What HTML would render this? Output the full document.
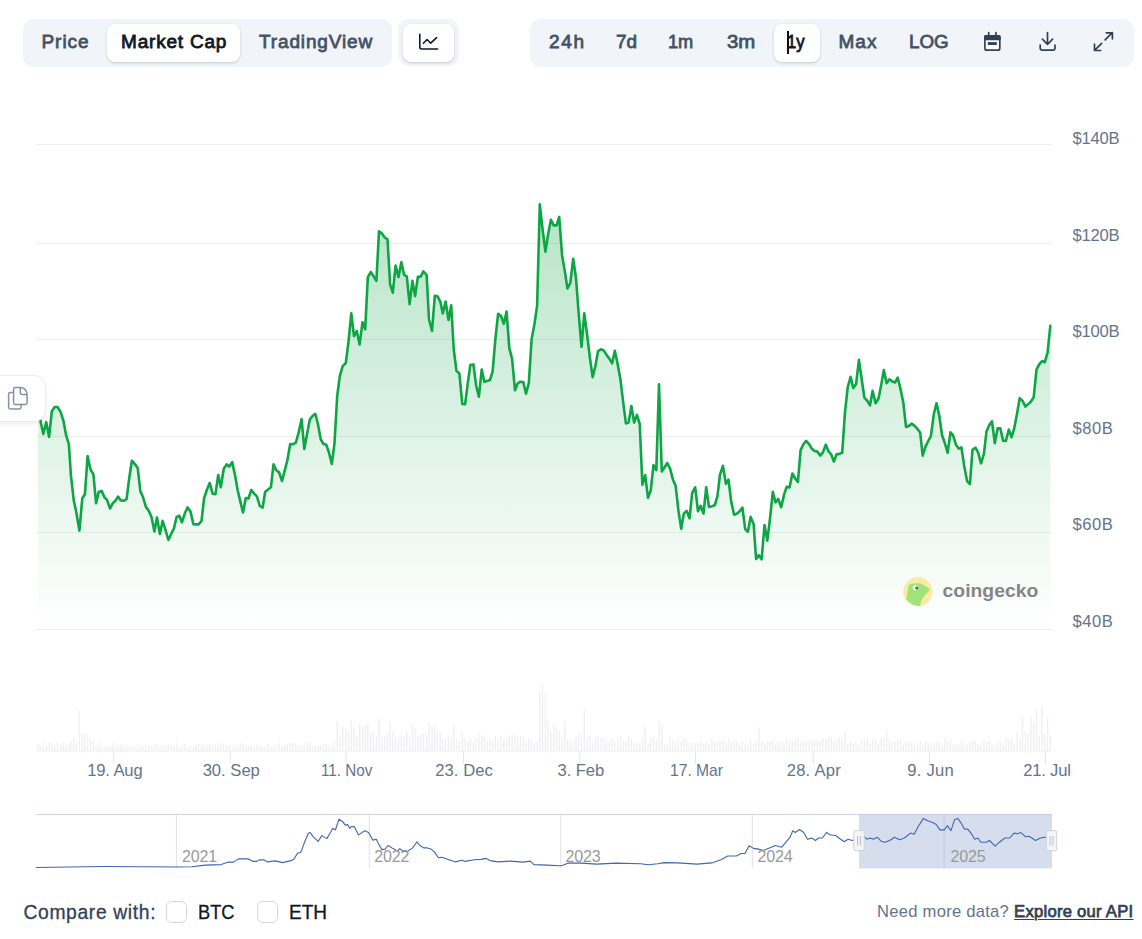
<!DOCTYPE html>
<html lang="en"><head><meta charset="utf-8"><title>Market Cap chart</title>
<style>
html,body{margin:0;padding:0;background:#fff}
body{width:1142px;height:939px;position:relative;overflow:hidden;font-family:"Liberation Sans",sans-serif}
.seg{position:absolute;background:#f1f5f9;border-radius:10px}
.btn{position:absolute;background:#fff;border-radius:8px;box-shadow:0 1px 3px rgba(15,23,42,.13),0 1px 2px rgba(15,23,42,.08)}
.t{position:absolute;white-space:nowrap;line-height:1;padding:0;margin:0}
.t.a{color:#0f172a}
.ico{position:absolute}
.cb{position:absolute;width:20.6px;height:21.8px;border:1.1px solid #d2d6dd;border-radius:5.8px;background:#fff;box-sizing:border-box}
.float{position:absolute;left:-12px;top:375.4px;width:57.6px;height:47px;background:#fff;border:1px solid #ededf0;border-radius:12px;box-sizing:border-box;box-shadow:0 2px 4px rgba(0,0,0,.07)}
</style></head><body>
<svg width="1142" height="939" viewBox="0 0 1142 939" style="position:absolute;left:0;top:0">
<defs>
<linearGradient id="g" gradientUnits="userSpaceOnUse" x1="0" y1="204" x2="0" y2="629">
<stop offset="0" stop-color="#0ea645" stop-opacity="0.30"/>
<stop offset="1" stop-color="#0ea645" stop-opacity="0.0"/>
</linearGradient>
</defs>
<style>
.ax{font-family:"Liberation Sans",sans-serif;font-size:16px;fill:#64748b}
.ny{font-family:"Liberation Sans",sans-serif;font-size:16.5px;fill:#9b9b9b}
</style>
<rect x="36" y="144.0" width="1016" height="1" fill="#eeeef0"/><rect x="36" y="243.0" width="1016" height="1" fill="#eeeef0"/><rect x="36" y="339.0" width="1016" height="1" fill="#eeeef0"/><rect x="36" y="436.0" width="1016" height="1" fill="#eeeef0"/><rect x="36" y="532.0" width="1016" height="1" fill="#eeeef0"/><rect x="36" y="629.0" width="1016" height="1" fill="#eeeef0"/>
<g fill="#f0f0f4"><rect x="37.3" y="744.3" width="1.4" height="6.2"/>
<rect x="39.5" y="745.2" width="1.4" height="5.3"/>
<rect x="42.6" y="742.2" width="1.4" height="8.3"/>
<rect x="45.5" y="745.5" width="1.4" height="5.0"/>
<rect x="48.4" y="742.6" width="1.4" height="7.9"/>
<rect x="51.1" y="743.5" width="1.4" height="7.0"/>
<rect x="54.0" y="745.3" width="1.4" height="5.2"/>
<rect x="56.9" y="742.4" width="1.4" height="8.1"/>
<rect x="60.0" y="745.2" width="1.4" height="5.3"/>
<rect x="62.7" y="742.3" width="1.4" height="8.2"/>
<rect x="65.4" y="744.5" width="1.4" height="6.0"/>
<rect x="68.2" y="744.1" width="1.4" height="6.4"/>
<rect x="70.2" y="741.3" width="1.4" height="9.2"/>
<rect x="73.1" y="737.7" width="1.4" height="12.8"/>
<rect x="75.7" y="743.0" width="1.4" height="7.5"/>
<rect x="78.7" y="710.5" width="1.4" height="40.0"/>
<rect x="81.6" y="733.5" width="1.4" height="17.0"/>
<rect x="84.2" y="733.5" width="1.4" height="17.0"/>
<rect x="86.9" y="734.5" width="1.4" height="16.0"/>
<rect x="89.8" y="740.4" width="1.4" height="10.1"/>
<rect x="92.7" y="741.9" width="1.4" height="8.6"/>
<rect x="95.4" y="746.5" width="1.4" height="4.0"/>
<rect x="98.0" y="742.6" width="1.4" height="7.9"/>
<rect x="100.9" y="745.4" width="1.4" height="5.1"/>
<rect x="103.8" y="746.2" width="1.4" height="4.3"/>
<rect x="106.3" y="746.3" width="1.4" height="4.2"/>
<rect x="109.4" y="745.5" width="1.4" height="5.0"/>
<rect x="112.0" y="743.3" width="1.4" height="7.2"/>
<rect x="114.5" y="746.2" width="1.4" height="4.3"/>
<rect x="117.4" y="744.5" width="1.4" height="6.0"/>
<rect x="120.1" y="744.3" width="1.4" height="6.2"/>
<rect x="123.0" y="745.5" width="1.4" height="5.0"/>
<rect x="125.9" y="744.8" width="1.4" height="5.7"/>
<rect x="128.7" y="746.9" width="1.4" height="3.6"/>
<rect x="131.2" y="746.9" width="1.4" height="3.6"/>
<rect x="134.1" y="746.3" width="1.4" height="4.2"/>
<rect x="137.0" y="744.3" width="1.4" height="6.2"/>
<rect x="139.7" y="745.4" width="1.4" height="5.1"/>
<rect x="142.3" y="745.9" width="1.4" height="4.6"/>
<rect x="145.2" y="744.7" width="1.4" height="5.8"/>
<rect x="148.1" y="745.3" width="1.4" height="5.2"/>
<rect x="150.8" y="745.9" width="1.4" height="4.6"/>
<rect x="153.7" y="743.9" width="1.4" height="6.6"/>
<rect x="156.3" y="744.3" width="1.4" height="6.2"/>
<rect x="159.2" y="746.2" width="1.4" height="4.3"/>
<rect x="161.9" y="744.8" width="1.4" height="5.7"/>
<rect x="164.8" y="745.0" width="1.4" height="5.5"/>
<rect x="167.7" y="743.5" width="1.4" height="7.0"/>
<rect x="170.4" y="744.1" width="1.4" height="6.4"/>
<rect x="173.3" y="746.0" width="1.4" height="4.5"/>
<rect x="175.9" y="743.1" width="1.4" height="7.4"/>
<rect x="178.6" y="746.7" width="1.4" height="3.8"/>
<rect x="181.2" y="745.4" width="1.4" height="5.1"/>
<rect x="184.1" y="744.0" width="1.4" height="6.5"/>
<rect x="186.9" y="746.6" width="1.4" height="3.9"/>
<rect x="189.8" y="745.1" width="1.4" height="5.4"/>
<rect x="192.7" y="747.0" width="1.4" height="3.5"/>
<rect x="195.4" y="744.4" width="1.4" height="6.1"/>
<rect x="197.9" y="744.0" width="1.4" height="6.5"/>
<rect x="200.8" y="744.8" width="1.4" height="5.7"/>
<rect x="203.4" y="743.5" width="1.4" height="7.0"/>
<rect x="206.3" y="745.9" width="1.4" height="4.6"/>
<rect x="209.0" y="744.3" width="1.4" height="6.2"/>
<rect x="211.9" y="744.7" width="1.4" height="5.8"/>
<rect x="214.8" y="744.8" width="1.4" height="5.7"/>
<rect x="217.5" y="745.3" width="1.4" height="5.2"/>
<rect x="220.1" y="743.7" width="1.4" height="6.8"/>
<rect x="223.0" y="743.2" width="1.4" height="7.3"/>
<rect x="225.9" y="745.2" width="1.4" height="5.3"/>
<rect x="228.6" y="744.4" width="1.4" height="6.1"/>
<rect x="231.5" y="746.9" width="1.4" height="3.6"/>
<rect x="234.1" y="744.3" width="1.4" height="6.2"/>
<rect x="237.0" y="744.5" width="1.4" height="6.0"/>
<rect x="239.7" y="743.0" width="1.4" height="7.5"/>
<rect x="242.3" y="743.7" width="1.4" height="6.8"/>
<rect x="245.1" y="746.0" width="1.4" height="4.5"/>
<rect x="247.7" y="745.5" width="1.4" height="5.0"/>
<rect x="250.6" y="744.3" width="1.4" height="6.2"/>
<rect x="253.3" y="747.0" width="1.4" height="3.5"/>
<rect x="256.2" y="745.1" width="1.4" height="5.4"/>
<rect x="259.1" y="746.3" width="1.4" height="4.2"/>
<rect x="261.9" y="746.5" width="1.4" height="4.0"/>
<rect x="264.4" y="746.8" width="1.4" height="3.7"/>
<rect x="267.3" y="743.6" width="1.4" height="6.9"/>
<rect x="270.2" y="746.4" width="1.4" height="4.1"/>
<rect x="272.8" y="745.9" width="1.4" height="4.6"/>
<rect x="275.5" y="745.2" width="1.4" height="5.3"/>
<rect x="278.4" y="743.0" width="1.4" height="7.5"/>
<rect x="281.3" y="746.6" width="1.4" height="3.9"/>
<rect x="284.0" y="744.9" width="1.4" height="5.6"/>
<rect x="286.6" y="744.4" width="1.4" height="6.1"/>
<rect x="289.5" y="742.8" width="1.4" height="7.7"/>
<rect x="292.0" y="743.1" width="1.4" height="7.4"/>
<rect x="295.1" y="742.9" width="1.4" height="7.6"/>
<rect x="298.0" y="745.5" width="1.4" height="5.0"/>
<rect x="300.9" y="744.9" width="1.4" height="5.6"/>
<rect x="303.6" y="745.1" width="1.4" height="5.4"/>
<rect x="306.5" y="742.6" width="1.4" height="7.9"/>
<rect x="309.1" y="742.2" width="1.4" height="8.3"/>
<rect x="311.8" y="746.0" width="1.4" height="4.5"/>
<rect x="314.6" y="745.9" width="1.4" height="4.6"/>
<rect x="317.3" y="745.6" width="1.4" height="4.9"/>
<rect x="320.1" y="745.6" width="1.4" height="4.9"/>
<rect x="322.8" y="744.3" width="1.4" height="6.2"/>
<rect x="325.5" y="743.8" width="1.4" height="6.7"/>
<rect x="328.2" y="745.4" width="1.4" height="5.1"/>
<rect x="331.1" y="745.8" width="1.4" height="4.7"/>
<rect x="333.8" y="741.4" width="1.4" height="9.1"/>
<rect x="336.5" y="720.5" width="1.4" height="30.0"/>
<rect x="339.1" y="735.1" width="1.4" height="15.4"/>
<rect x="342.0" y="726.8" width="1.4" height="23.7"/>
<rect x="345.1" y="727.7" width="1.4" height="22.8"/>
<rect x="347.8" y="730.3" width="1.4" height="20.2"/>
<rect x="350.6" y="720.5" width="1.4" height="30.0"/>
<rect x="353.3" y="727.7" width="1.4" height="22.8"/>
<rect x="356.1" y="737.3" width="1.4" height="13.2"/>
<rect x="358.9" y="723.9" width="1.4" height="26.6"/>
<rect x="361.8" y="725.7" width="1.4" height="24.8"/>
<rect x="364.5" y="724.1" width="1.4" height="26.4"/>
<rect x="367.1" y="722.5" width="1.4" height="28.0"/>
<rect x="370.0" y="731.6" width="1.4" height="18.9"/>
<rect x="372.8" y="731.4" width="1.4" height="19.1"/>
<rect x="375.7" y="736.1" width="1.4" height="14.4"/>
<rect x="378.3" y="718.5" width="1.4" height="32.0"/>
<rect x="381.1" y="736.6" width="1.4" height="13.9"/>
<rect x="384.0" y="736.5" width="1.4" height="14.0"/>
<rect x="386.8" y="734.1" width="1.4" height="16.4"/>
<rect x="389.4" y="721.5" width="1.4" height="29.0"/>
<rect x="392.1" y="731.8" width="1.4" height="18.7"/>
<rect x="394.9" y="736.5" width="1.4" height="14.0"/>
<rect x="397.8" y="737.3" width="1.4" height="13.2"/>
<rect x="400.6" y="734.8" width="1.4" height="15.7"/>
<rect x="403.4" y="735.9" width="1.4" height="14.6"/>
<rect x="406.1" y="731.7" width="1.4" height="18.8"/>
<rect x="408.9" y="737.4" width="1.4" height="13.1"/>
<rect x="411.7" y="724.1" width="1.4" height="26.4"/>
<rect x="414.4" y="728.5" width="1.4" height="22.0"/>
<rect x="417.2" y="736.0" width="1.4" height="14.5"/>
<rect x="420.0" y="734.6" width="1.4" height="15.9"/>
<rect x="422.7" y="733.3" width="1.4" height="17.2"/>
<rect x="425.9" y="733.3" width="1.4" height="17.2"/>
<rect x="428.3" y="722.5" width="1.4" height="28.0"/>
<rect x="431.3" y="726.7" width="1.4" height="23.8"/>
<rect x="434.1" y="724.9" width="1.4" height="25.6"/>
<rect x="436.8" y="732.8" width="1.4" height="17.7"/>
<rect x="439.6" y="732.8" width="1.4" height="17.7"/>
<rect x="442.1" y="738.7" width="1.4" height="11.8"/>
<rect x="444.9" y="738.9" width="1.4" height="11.6"/>
<rect x="447.8" y="736.3" width="1.4" height="14.2"/>
<rect x="450.5" y="737.8" width="1.4" height="12.7"/>
<rect x="453.1" y="724.5" width="1.4" height="26.0"/>
<rect x="455.8" y="739.9" width="1.4" height="10.6"/>
<rect x="458.6" y="741.8" width="1.4" height="8.7"/>
<rect x="461.6" y="732.7" width="1.4" height="17.8"/>
<rect x="464.4" y="737.6" width="1.4" height="12.9"/>
<rect x="467.1" y="741.4" width="1.4" height="9.1"/>
<rect x="469.6" y="737.5" width="1.4" height="13.0"/>
<rect x="472.7" y="742.6" width="1.4" height="7.9"/>
<rect x="475.4" y="737.8" width="1.4" height="12.7"/>
<rect x="478.2" y="733.5" width="1.4" height="17.0"/>
<rect x="481.0" y="734.6" width="1.4" height="15.9"/>
<rect x="483.7" y="736.3" width="1.4" height="14.2"/>
<rect x="486.5" y="740.5" width="1.4" height="10.0"/>
<rect x="489.3" y="739.5" width="1.4" height="11.0"/>
<rect x="491.9" y="741.4" width="1.4" height="9.1"/>
<rect x="494.6" y="735.7" width="1.4" height="14.8"/>
<rect x="497.4" y="738.0" width="1.4" height="12.5"/>
<rect x="500.2" y="735.7" width="1.4" height="14.8"/>
<rect x="503.1" y="740.0" width="1.4" height="10.5"/>
<rect x="505.9" y="741.0" width="1.4" height="9.5"/>
<rect x="508.6" y="735.6" width="1.4" height="14.9"/>
<rect x="511.4" y="734.0" width="1.4" height="16.5"/>
<rect x="514.3" y="735.3" width="1.4" height="15.2"/>
<rect x="516.9" y="735.7" width="1.4" height="14.8"/>
<rect x="519.7" y="735.7" width="1.4" height="14.8"/>
<rect x="522.6" y="736.4" width="1.4" height="14.1"/>
<rect x="525.3" y="741.2" width="1.4" height="9.3"/>
<rect x="528.1" y="738.6" width="1.4" height="11.9"/>
<rect x="530.9" y="740.1" width="1.4" height="10.4"/>
<rect x="533.7" y="743.1" width="1.4" height="7.4"/>
<rect x="536.4" y="741.8" width="1.4" height="8.7"/>
<rect x="539.1" y="690.5" width="1.4" height="60.0"/>
<rect x="541.9" y="684.5" width="1.4" height="66.0"/>
<rect x="544.7" y="693.5" width="1.4" height="57.0"/>
<rect x="547.4" y="720.5" width="1.4" height="30.0"/>
<rect x="550.2" y="730.6" width="1.4" height="19.9"/>
<rect x="553.0" y="725.4" width="1.4" height="25.1"/>
<rect x="555.9" y="727.4" width="1.4" height="23.1"/>
<rect x="558.5" y="730.3" width="1.4" height="20.2"/>
<rect x="561.3" y="737.8" width="1.4" height="12.7"/>
<rect x="564.2" y="720.5" width="1.4" height="30.0"/>
<rect x="566.8" y="739.7" width="1.4" height="10.8"/>
<rect x="569.6" y="740.2" width="1.4" height="10.3"/>
<rect x="572.5" y="740.3" width="1.4" height="10.2"/>
<rect x="575.3" y="736.3" width="1.4" height="14.2"/>
<rect x="577.9" y="733.8" width="1.4" height="16.7"/>
<rect x="580.8" y="734.7" width="1.4" height="15.8"/>
<rect x="583.6" y="710.5" width="1.4" height="40.0"/>
<rect x="586.4" y="737.1" width="1.4" height="13.4"/>
<rect x="589.1" y="736.1" width="1.4" height="14.4"/>
<rect x="591.9" y="742.7" width="1.4" height="7.8"/>
<rect x="594.7" y="737.9" width="1.4" height="12.6"/>
<rect x="597.3" y="736.0" width="1.4" height="14.5"/>
<rect x="600.2" y="737.3" width="1.4" height="13.2"/>
<rect x="603.0" y="737.7" width="1.4" height="12.8"/>
<rect x="605.8" y="740.0" width="1.4" height="10.5"/>
<rect x="608.7" y="742.5" width="1.4" height="8.0"/>
<rect x="611.4" y="737.5" width="1.4" height="13.0"/>
<rect x="614.1" y="741.3" width="1.4" height="9.2"/>
<rect x="616.9" y="737.6" width="1.4" height="12.9"/>
<rect x="619.7" y="736.2" width="1.4" height="14.3"/>
<rect x="622.4" y="741.0" width="1.4" height="9.5"/>
<rect x="625.2" y="741.0" width="1.4" height="9.5"/>
<rect x="627.9" y="736.6" width="1.4" height="13.9"/>
<rect x="630.7" y="738.5" width="1.4" height="12.0"/>
<rect x="633.4" y="742.9" width="1.4" height="7.6"/>
<rect x="636.2" y="743.3" width="1.4" height="7.2"/>
<rect x="639.0" y="743.2" width="1.4" height="7.3"/>
<rect x="641.7" y="737.3" width="1.4" height="13.2"/>
<rect x="644.5" y="726.5" width="1.4" height="24.0"/>
<rect x="647.3" y="743.3" width="1.4" height="7.2"/>
<rect x="650.0" y="738.1" width="1.4" height="12.4"/>
<rect x="652.8" y="737.0" width="1.4" height="13.5"/>
<rect x="655.6" y="739.5" width="1.4" height="11.0"/>
<rect x="658.3" y="720.5" width="1.4" height="30.0"/>
<rect x="661.1" y="725.5" width="1.4" height="25.0"/>
<rect x="663.9" y="743.6" width="1.4" height="6.9"/>
<rect x="666.6" y="744.5" width="1.4" height="6.0"/>
<rect x="669.4" y="737.5" width="1.4" height="13.0"/>
<rect x="672.2" y="739.9" width="1.4" height="10.6"/>
<rect x="674.9" y="740.9" width="1.4" height="9.6"/>
<rect x="677.7" y="737.9" width="1.4" height="12.6"/>
<rect x="680.5" y="741.6" width="1.4" height="8.9"/>
<rect x="683.2" y="738.5" width="1.4" height="12.0"/>
<rect x="686.0" y="738.9" width="1.4" height="11.6"/>
<rect x="688.8" y="743.4" width="1.4" height="7.1"/>
<rect x="691.5" y="743.1" width="1.4" height="7.4"/>
<rect x="694.5" y="742.9" width="1.4" height="7.6"/>
<rect x="697.3" y="743.3" width="1.4" height="7.2"/>
<rect x="700.0" y="740.9" width="1.4" height="9.6"/>
<rect x="702.8" y="743.2" width="1.4" height="7.3"/>
<rect x="705.5" y="742.1" width="1.4" height="8.4"/>
<rect x="708.3" y="744.1" width="1.4" height="6.4"/>
<rect x="711.1" y="738.6" width="1.4" height="11.9"/>
<rect x="714.0" y="742.5" width="1.4" height="8.0"/>
<rect x="716.7" y="741.8" width="1.4" height="8.7"/>
<rect x="719.3" y="740.9" width="1.4" height="9.6"/>
<rect x="722.2" y="738.7" width="1.4" height="11.8"/>
<rect x="725.2" y="742.1" width="1.4" height="8.4"/>
<rect x="727.8" y="738.6" width="1.4" height="11.9"/>
<rect x="730.5" y="741.5" width="1.4" height="9.0"/>
<rect x="733.4" y="741.3" width="1.4" height="9.2"/>
<rect x="736.0" y="741.3" width="1.4" height="9.2"/>
<rect x="739.0" y="744.9" width="1.4" height="5.6"/>
<rect x="741.7" y="741.9" width="1.4" height="8.6"/>
<rect x="744.5" y="743.7" width="1.4" height="6.8"/>
<rect x="747.2" y="745.0" width="1.4" height="5.5"/>
<rect x="749.9" y="739.4" width="1.4" height="11.1"/>
<rect x="752.9" y="743.8" width="1.4" height="6.7"/>
<rect x="755.4" y="741.7" width="1.4" height="8.8"/>
<rect x="758.1" y="727.5" width="1.4" height="23.0"/>
<rect x="760.9" y="741.1" width="1.4" height="9.4"/>
<rect x="763.8" y="742.6" width="1.4" height="7.9"/>
<rect x="766.6" y="741.2" width="1.4" height="9.3"/>
<rect x="769.3" y="740.9" width="1.4" height="9.6"/>
<rect x="772.1" y="739.2" width="1.4" height="11.3"/>
<rect x="774.8" y="744.0" width="1.4" height="6.5"/>
<rect x="777.6" y="740.6" width="1.4" height="9.9"/>
<rect x="780.5" y="742.9" width="1.4" height="7.6"/>
<rect x="783.3" y="742.6" width="1.4" height="7.9"/>
<rect x="786.0" y="738.9" width="1.4" height="11.6"/>
<rect x="788.8" y="740.8" width="1.4" height="9.7"/>
<rect x="791.7" y="740.3" width="1.4" height="10.2"/>
<rect x="794.5" y="738.7" width="1.4" height="11.8"/>
<rect x="797.2" y="737.5" width="1.4" height="13.0"/>
<rect x="799.9" y="741.0" width="1.4" height="9.5"/>
<rect x="802.7" y="739.7" width="1.4" height="10.8"/>
<rect x="805.4" y="740.6" width="1.4" height="9.9"/>
<rect x="808.4" y="740.5" width="1.4" height="10.0"/>
<rect x="811.0" y="739.1" width="1.4" height="11.4"/>
<rect x="813.9" y="741.0" width="1.4" height="9.5"/>
<rect x="816.6" y="740.3" width="1.4" height="10.2"/>
<rect x="819.5" y="740.8" width="1.4" height="9.7"/>
<rect x="822.2" y="737.2" width="1.4" height="13.3"/>
<rect x="825.1" y="739.1" width="1.4" height="11.4"/>
<rect x="827.8" y="737.7" width="1.4" height="12.8"/>
<rect x="830.5" y="737.2" width="1.4" height="13.3"/>
<rect x="833.2" y="742.5" width="1.4" height="8.0"/>
<rect x="835.8" y="740.1" width="1.4" height="10.4"/>
<rect x="838.7" y="737.2" width="1.4" height="13.3"/>
<rect x="841.5" y="738.0" width="1.4" height="12.5"/>
<rect x="844.3" y="730.5" width="1.4" height="20.0"/>
<rect x="847.0" y="743.5" width="1.4" height="7.0"/>
<rect x="849.9" y="741.1" width="1.4" height="9.4"/>
<rect x="852.6" y="743.9" width="1.4" height="6.6"/>
<rect x="855.4" y="742.7" width="1.4" height="7.8"/>
<rect x="858.2" y="744.0" width="1.4" height="6.5"/>
<rect x="861.0" y="739.5" width="1.4" height="11.0"/>
<rect x="863.7" y="738.7" width="1.4" height="11.8"/>
<rect x="866.6" y="738.0" width="1.4" height="12.5"/>
<rect x="869.3" y="743.5" width="1.4" height="7.0"/>
<rect x="871.9" y="739.4" width="1.4" height="11.1"/>
<rect x="874.9" y="739.9" width="1.4" height="10.6"/>
<rect x="877.8" y="743.7" width="1.4" height="6.8"/>
<rect x="880.5" y="738.4" width="1.4" height="12.1"/>
<rect x="883.1" y="737.8" width="1.4" height="12.7"/>
<rect x="885.9" y="730.5" width="1.4" height="20.0"/>
<rect x="888.7" y="738.1" width="1.4" height="12.4"/>
<rect x="891.4" y="742.1" width="1.4" height="8.4"/>
<rect x="894.3" y="741.5" width="1.4" height="9.0"/>
<rect x="897.0" y="738.0" width="1.4" height="12.5"/>
<rect x="899.8" y="739.2" width="1.4" height="11.3"/>
<rect x="902.6" y="743.9" width="1.4" height="6.6"/>
<rect x="905.3" y="742.0" width="1.4" height="8.5"/>
<rect x="908.1" y="741.5" width="1.4" height="9.0"/>
<rect x="910.9" y="742.7" width="1.4" height="7.8"/>
<rect x="913.7" y="743.7" width="1.4" height="6.8"/>
<rect x="916.6" y="742.9" width="1.4" height="7.6"/>
<rect x="919.5" y="740.2" width="1.4" height="10.3"/>
<rect x="922.0" y="745.0" width="1.4" height="5.5"/>
<rect x="924.9" y="741.4" width="1.4" height="9.1"/>
<rect x="927.6" y="742.2" width="1.4" height="8.3"/>
<rect x="930.2" y="745.0" width="1.4" height="5.5"/>
<rect x="933.2" y="742.9" width="1.4" height="7.6"/>
<rect x="935.8" y="741.0" width="1.4" height="9.5"/>
<rect x="938.5" y="741.8" width="1.4" height="8.7"/>
<rect x="941.4" y="744.8" width="1.4" height="5.7"/>
<rect x="944.1" y="738.7" width="1.4" height="11.8"/>
<rect x="946.9" y="740.0" width="1.4" height="10.5"/>
<rect x="949.8" y="738.8" width="1.4" height="11.7"/>
<rect x="952.4" y="744.6" width="1.4" height="5.9"/>
<rect x="955.2" y="743.6" width="1.4" height="6.9"/>
<rect x="958.1" y="745.1" width="1.4" height="5.4"/>
<rect x="960.7" y="740.2" width="1.4" height="10.3"/>
<rect x="963.5" y="743.6" width="1.4" height="6.9"/>
<rect x="966.4" y="744.5" width="1.4" height="6.0"/>
<rect x="969.2" y="742.6" width="1.4" height="7.9"/>
<rect x="971.8" y="739.5" width="1.4" height="11.0"/>
<rect x="974.7" y="740.1" width="1.4" height="10.4"/>
<rect x="977.5" y="743.8" width="1.4" height="6.7"/>
<rect x="980.3" y="744.5" width="1.4" height="6.0"/>
<rect x="983.2" y="739.6" width="1.4" height="10.9"/>
<rect x="985.8" y="741.8" width="1.4" height="8.7"/>
<rect x="988.6" y="741.0" width="1.4" height="9.5"/>
<rect x="991.3" y="744.9" width="1.4" height="5.6"/>
<rect x="994.1" y="745.2" width="1.4" height="5.3"/>
<rect x="996.9" y="741.2" width="1.4" height="9.3"/>
<rect x="999.6" y="742.8" width="1.4" height="7.7"/>
<rect x="1002.4" y="744.7" width="1.4" height="5.8"/>
<rect x="1005.2" y="738.2" width="1.4" height="12.3"/>
<rect x="1008.1" y="739.8" width="1.4" height="10.7"/>
<rect x="1010.9" y="737.9" width="1.4" height="12.6"/>
<rect x="1013.5" y="743.3" width="1.4" height="7.2"/>
<rect x="1016.4" y="731.9" width="1.4" height="18.6"/>
<rect x="1019.0" y="737.7" width="1.4" height="12.8"/>
<rect x="1021.8" y="715.5" width="1.4" height="35.0"/>
<rect x="1024.7" y="731.1" width="1.4" height="19.4"/>
<rect x="1027.5" y="732.8" width="1.4" height="17.7"/>
<rect x="1030.3" y="716.5" width="1.4" height="34.0"/>
<rect x="1033.0" y="723.1" width="1.4" height="27.4"/>
<rect x="1035.8" y="709.5" width="1.4" height="41.0"/>
<rect x="1038.5" y="735.6" width="1.4" height="14.9"/>
<rect x="1041.3" y="706.5" width="1.4" height="44.0"/>
<rect x="1044.1" y="733.6" width="1.4" height="16.9"/>
<rect x="1046.9" y="717.5" width="1.4" height="33.0"/>
<rect x="1049.6" y="734.7" width="1.4" height="15.8"/></g>
<rect x="36" y="750.5" width="1016" height="1" fill="#eeeef2"/>
<rect x="113.3" y="751" width="1" height="12.8" fill="#e6e6ea"/><rect x="229.8" y="751" width="1" height="12.8" fill="#e6e6ea"/><rect x="345.5" y="751" width="1" height="12.8" fill="#e6e6ea"/><rect x="463.0" y="751" width="1" height="12.8" fill="#e6e6ea"/><rect x="579.2" y="751" width="1" height="12.8" fill="#e6e6ea"/><rect x="695.0" y="751" width="1" height="12.8" fill="#e6e6ea"/><rect x="812.7" y="751" width="1" height="12.8" fill="#e6e6ea"/><rect x="928.9" y="751" width="1" height="12.8" fill="#e6e6ea"/><rect x="1045.0" y="751" width="1" height="12.8" fill="#e6e6ea"/>
<path d="M38.0 413.0 L40.2 419.8 L43.3 434.0 L46.2 422.0 L49.1 436.9 L51.8 411.3 L54.7 407.0 L57.6 407.0 L60.7 412.2 L63.4 420.7 L66.1 435.2 L68.9 444.5 L70.9 475.2 L73.8 500.8 L76.4 512.7 L79.4 530.6 L82.3 498.2 L84.9 494.3 L87.6 456.1 L90.5 469.3 L93.4 474.4 L96.1 503.3 L98.7 491.9 L101.6 490.9 L104.5 497.4 L107.0 499.9 L110.1 508.5 L112.7 503.3 L115.2 501.1 L118.1 496.5 L120.8 500.4 L123.7 500.8 L126.6 499.1 L129.4 476.9 L131.9 460.7 L134.8 464.1 L137.7 468.1 L140.4 491.4 L143.0 497.0 L145.9 506.8 L148.8 511.0 L151.5 517.0 L154.4 531.5 L157.0 517.5 L159.9 534.0 L162.6 520.9 L165.5 529.8 L168.4 540.0 L171.1 534.0 L174.0 528.1 L176.6 517.0 L179.3 515.7 L181.9 522.4 L184.8 513.3 L187.6 507.4 L190.5 511.6 L193.4 524.1 L196.1 524.4 L198.6 524.4 L201.5 521.0 L204.1 498.0 L207.0 489.5 L209.7 483.0 L212.6 493.7 L215.5 494.1 L218.2 475.0 L220.8 487.3 L223.7 469.0 L226.6 464.4 L229.3 466.5 L232.2 462.2 L234.8 474.1 L237.7 490.3 L240.4 501.9 L243.0 512.5 L245.8 498.0 L248.4 498.5 L251.3 490.0 L254.0 493.4 L256.9 496.3 L259.8 506.0 L262.6 507.7 L265.1 492.0 L268.0 489.5 L270.9 487.3 L273.5 464.4 L276.2 470.2 L279.1 472.4 L282.0 481.0 L284.7 470.7 L287.3 460.5 L290.2 444.0 L292.7 444.3 L295.8 442.6 L298.7 432.4 L301.6 419.1 L304.3 448.9 L307.2 433.2 L309.8 419.6 L312.5 416.0 L315.3 413.8 L318.0 424.5 L320.8 439.5 L323.5 444.0 L326.2 444.6 L328.9 452.2 L331.8 464.0 L334.5 443.1 L337.2 396.0 L339.8 376.1 L342.7 366.1 L345.8 363.0 L348.5 341.7 L351.3 313.3 L354.0 336.2 L356.8 331.0 L359.6 344.5 L362.5 322.2 L365.2 329.4 L367.8 277.4 L370.7 272.0 L373.5 276.1 L376.4 280.8 L379.0 231.4 L381.8 233.3 L384.7 237.5 L387.5 239.3 L390.1 284.4 L392.8 292.7 L395.6 265.6 L398.5 277.1 L401.3 262.3 L404.1 274.8 L406.8 276.3 L409.6 304.2 L412.4 280.9 L415.1 296.1 L417.9 276.7 L420.7 276.7 L423.4 271.4 L426.6 274.8 L429.0 319.5 L432.0 331.0 L434.8 295.9 L437.5 296.3 L440.3 301.6 L442.8 313.4 L445.6 301.5 L448.5 320.0 L451.2 305.2 L453.8 350.0 L456.5 371.1 L459.3 373.3 L462.3 404.0 L465.1 404.3 L467.8 383.2 L470.3 365.1 L473.4 364.4 L476.1 385.2 L478.9 396.7 L481.7 369.6 L484.4 382.0 L487.2 380.9 L490.0 380.0 L492.6 371.7 L495.3 339.8 L498.1 313.9 L500.9 315.8 L503.8 323.8 L506.6 311.6 L509.3 348.1 L512.1 358.9 L515.0 390.3 L517.6 383.5 L520.4 381.7 L523.3 382.0 L526.0 393.7 L528.8 383.2 L531.6 339.3 L534.4 324.5 L537.1 306.0 L539.8 204.3 L542.6 229.4 L545.4 251.7 L548.1 234.5 L550.9 219.7 L553.7 225.4 L556.6 225.4 L559.2 216.9 L562.0 254.7 L564.9 271.9 L567.5 288.5 L570.3 283.0 L573.2 258.7 L576.0 278.0 L578.6 312.4 L581.5 346.8 L584.3 313.4 L587.1 334.6 L589.8 356.9 L592.6 377.1 L595.4 366.0 L598.0 351.2 L600.9 349.2 L603.7 350.4 L606.5 354.9 L609.4 358.7 L612.1 363.4 L614.8 350.7 L617.6 363.7 L620.4 379.2 L623.1 401.7 L625.9 423.4 L628.6 422.6 L631.4 406.0 L634.1 422.6 L636.9 414.9 L639.7 424.0 L642.4 484.7 L645.2 475.1 L648.0 497.9 L650.7 490.6 L653.5 465.1 L656.3 470.2 L659.0 384.3 L661.8 471.5 L664.6 467.2 L667.3 463.0 L670.1 468.7 L672.9 479.4 L675.6 485.7 L678.4 510.2 L681.2 528.9 L683.9 513.4 L686.7 510.9 L689.5 518.3 L692.2 492.8 L695.2 487.3 L698.0 511.3 L700.7 505.8 L703.5 513.5 L706.2 487.4 L709.0 507.1 L711.8 506.3 L714.7 505.3 L717.4 496.3 L720.0 474.7 L722.9 465.8 L725.9 483.7 L728.5 479.6 L731.2 501.6 L734.1 514.7 L736.7 513.8 L739.7 511.3 L742.4 507.5 L745.2 529.1 L747.9 531.7 L750.6 516.9 L753.6 523.9 L756.1 559.0 L758.8 555.2 L761.6 559.4 L764.5 525.1 L767.3 540.6 L770.0 518.7 L772.8 491.9 L775.5 502.3 L778.3 499.0 L781.2 507.2 L784.0 494.9 L786.7 486.7 L789.5 487.4 L792.4 473.5 L795.2 478.5 L797.9 481.9 L800.6 450.1 L803.4 444.2 L806.1 440.9 L809.1 444.2 L811.7 448.6 L814.6 450.9 L817.3 451.6 L820.2 455.6 L822.9 452.4 L825.8 444.7 L828.5 451.2 L831.2 454.5 L833.9 461.6 L836.5 454.4 L839.4 453.9 L842.2 452.8 L845.0 412.1 L847.7 387.3 L850.6 376.9 L853.3 388.1 L856.1 384.1 L858.9 359.9 L861.7 379.3 L864.4 397.7 L867.3 400.9 L870.0 405.4 L872.6 390.8 L875.6 403.3 L878.5 398.5 L881.2 384.9 L883.8 370.1 L886.6 383.3 L889.4 379.3 L892.1 381.4 L895.0 382.5 L897.7 377.7 L900.5 388.9 L903.3 402.5 L906.0 426.9 L908.8 426.1 L911.6 423.7 L914.4 425.6 L917.3 428.8 L920.2 432.8 L922.7 455.7 L925.6 446.4 L928.3 440.8 L930.9 436.0 L933.9 413.7 L936.5 403.3 L939.2 415.3 L942.1 435.2 L944.8 443.0 L947.6 452.7 L950.5 432.3 L953.1 435.4 L955.9 444.6 L958.8 448.7 L961.4 447.3 L964.2 465.9 L967.1 481.1 L969.9 484.1 L972.5 449.7 L975.4 447.7 L978.2 452.7 L981.0 463.5 L983.9 453.8 L986.5 431.5 L989.3 425.0 L992.0 421.4 L994.8 443.2 L997.6 428.4 L1000.3 428.4 L1003.1 440.6 L1005.9 441.0 L1008.8 429.5 L1011.6 437.2 L1014.2 428.4 L1017.1 413.3 L1019.7 398.1 L1022.5 400.7 L1025.4 406.6 L1028.2 404.1 L1031.0 401.5 L1033.7 397.1 L1036.5 369.7 L1039.2 364.3 L1042.0 361.0 L1044.8 362.2 L1047.6 352.5 L1050.3 325.8 L1050.3 629.5 L38.0 629.5 Z" fill="url(#g)"/>
<path d="M38.0 413.0 L40.2 419.8 L43.3 434.0 L46.2 422.0 L49.1 436.9 L51.8 411.3 L54.7 407.0 L57.6 407.0 L60.7 412.2 L63.4 420.7 L66.1 435.2 L68.9 444.5 L70.9 475.2 L73.8 500.8 L76.4 512.7 L79.4 530.6 L82.3 498.2 L84.9 494.3 L87.6 456.1 L90.5 469.3 L93.4 474.4 L96.1 503.3 L98.7 491.9 L101.6 490.9 L104.5 497.4 L107.0 499.9 L110.1 508.5 L112.7 503.3 L115.2 501.1 L118.1 496.5 L120.8 500.4 L123.7 500.8 L126.6 499.1 L129.4 476.9 L131.9 460.7 L134.8 464.1 L137.7 468.1 L140.4 491.4 L143.0 497.0 L145.9 506.8 L148.8 511.0 L151.5 517.0 L154.4 531.5 L157.0 517.5 L159.9 534.0 L162.6 520.9 L165.5 529.8 L168.4 540.0 L171.1 534.0 L174.0 528.1 L176.6 517.0 L179.3 515.7 L181.9 522.4 L184.8 513.3 L187.6 507.4 L190.5 511.6 L193.4 524.1 L196.1 524.4 L198.6 524.4 L201.5 521.0 L204.1 498.0 L207.0 489.5 L209.7 483.0 L212.6 493.7 L215.5 494.1 L218.2 475.0 L220.8 487.3 L223.7 469.0 L226.6 464.4 L229.3 466.5 L232.2 462.2 L234.8 474.1 L237.7 490.3 L240.4 501.9 L243.0 512.5 L245.8 498.0 L248.4 498.5 L251.3 490.0 L254.0 493.4 L256.9 496.3 L259.8 506.0 L262.6 507.7 L265.1 492.0 L268.0 489.5 L270.9 487.3 L273.5 464.4 L276.2 470.2 L279.1 472.4 L282.0 481.0 L284.7 470.7 L287.3 460.5 L290.2 444.0 L292.7 444.3 L295.8 442.6 L298.7 432.4 L301.6 419.1 L304.3 448.9 L307.2 433.2 L309.8 419.6 L312.5 416.0 L315.3 413.8 L318.0 424.5 L320.8 439.5 L323.5 444.0 L326.2 444.6 L328.9 452.2 L331.8 464.0 L334.5 443.1 L337.2 396.0 L339.8 376.1 L342.7 366.1 L345.8 363.0 L348.5 341.7 L351.3 313.3 L354.0 336.2 L356.8 331.0 L359.6 344.5 L362.5 322.2 L365.2 329.4 L367.8 277.4 L370.7 272.0 L373.5 276.1 L376.4 280.8 L379.0 231.4 L381.8 233.3 L384.7 237.5 L387.5 239.3 L390.1 284.4 L392.8 292.7 L395.6 265.6 L398.5 277.1 L401.3 262.3 L404.1 274.8 L406.8 276.3 L409.6 304.2 L412.4 280.9 L415.1 296.1 L417.9 276.7 L420.7 276.7 L423.4 271.4 L426.6 274.8 L429.0 319.5 L432.0 331.0 L434.8 295.9 L437.5 296.3 L440.3 301.6 L442.8 313.4 L445.6 301.5 L448.5 320.0 L451.2 305.2 L453.8 350.0 L456.5 371.1 L459.3 373.3 L462.3 404.0 L465.1 404.3 L467.8 383.2 L470.3 365.1 L473.4 364.4 L476.1 385.2 L478.9 396.7 L481.7 369.6 L484.4 382.0 L487.2 380.9 L490.0 380.0 L492.6 371.7 L495.3 339.8 L498.1 313.9 L500.9 315.8 L503.8 323.8 L506.6 311.6 L509.3 348.1 L512.1 358.9 L515.0 390.3 L517.6 383.5 L520.4 381.7 L523.3 382.0 L526.0 393.7 L528.8 383.2 L531.6 339.3 L534.4 324.5 L537.1 306.0 L539.8 204.3 L542.6 229.4 L545.4 251.7 L548.1 234.5 L550.9 219.7 L553.7 225.4 L556.6 225.4 L559.2 216.9 L562.0 254.7 L564.9 271.9 L567.5 288.5 L570.3 283.0 L573.2 258.7 L576.0 278.0 L578.6 312.4 L581.5 346.8 L584.3 313.4 L587.1 334.6 L589.8 356.9 L592.6 377.1 L595.4 366.0 L598.0 351.2 L600.9 349.2 L603.7 350.4 L606.5 354.9 L609.4 358.7 L612.1 363.4 L614.8 350.7 L617.6 363.7 L620.4 379.2 L623.1 401.7 L625.9 423.4 L628.6 422.6 L631.4 406.0 L634.1 422.6 L636.9 414.9 L639.7 424.0 L642.4 484.7 L645.2 475.1 L648.0 497.9 L650.7 490.6 L653.5 465.1 L656.3 470.2 L659.0 384.3 L661.8 471.5 L664.6 467.2 L667.3 463.0 L670.1 468.7 L672.9 479.4 L675.6 485.7 L678.4 510.2 L681.2 528.9 L683.9 513.4 L686.7 510.9 L689.5 518.3 L692.2 492.8 L695.2 487.3 L698.0 511.3 L700.7 505.8 L703.5 513.5 L706.2 487.4 L709.0 507.1 L711.8 506.3 L714.7 505.3 L717.4 496.3 L720.0 474.7 L722.9 465.8 L725.9 483.7 L728.5 479.6 L731.2 501.6 L734.1 514.7 L736.7 513.8 L739.7 511.3 L742.4 507.5 L745.2 529.1 L747.9 531.7 L750.6 516.9 L753.6 523.9 L756.1 559.0 L758.8 555.2 L761.6 559.4 L764.5 525.1 L767.3 540.6 L770.0 518.7 L772.8 491.9 L775.5 502.3 L778.3 499.0 L781.2 507.2 L784.0 494.9 L786.7 486.7 L789.5 487.4 L792.4 473.5 L795.2 478.5 L797.9 481.9 L800.6 450.1 L803.4 444.2 L806.1 440.9 L809.1 444.2 L811.7 448.6 L814.6 450.9 L817.3 451.6 L820.2 455.6 L822.9 452.4 L825.8 444.7 L828.5 451.2 L831.2 454.5 L833.9 461.6 L836.5 454.4 L839.4 453.9 L842.2 452.8 L845.0 412.1 L847.7 387.3 L850.6 376.9 L853.3 388.1 L856.1 384.1 L858.9 359.9 L861.7 379.3 L864.4 397.7 L867.3 400.9 L870.0 405.4 L872.6 390.8 L875.6 403.3 L878.5 398.5 L881.2 384.9 L883.8 370.1 L886.6 383.3 L889.4 379.3 L892.1 381.4 L895.0 382.5 L897.7 377.7 L900.5 388.9 L903.3 402.5 L906.0 426.9 L908.8 426.1 L911.6 423.7 L914.4 425.6 L917.3 428.8 L920.2 432.8 L922.7 455.7 L925.6 446.4 L928.3 440.8 L930.9 436.0 L933.9 413.7 L936.5 403.3 L939.2 415.3 L942.1 435.2 L944.8 443.0 L947.6 452.7 L950.5 432.3 L953.1 435.4 L955.9 444.6 L958.8 448.7 L961.4 447.3 L964.2 465.9 L967.1 481.1 L969.9 484.1 L972.5 449.7 L975.4 447.7 L978.2 452.7 L981.0 463.5 L983.9 453.8 L986.5 431.5 L989.3 425.0 L992.0 421.4 L994.8 443.2 L997.6 428.4 L1000.3 428.4 L1003.1 440.6 L1005.9 441.0 L1008.8 429.5 L1011.6 437.2 L1014.2 428.4 L1017.1 413.3 L1019.7 398.1 L1022.5 400.7 L1025.4 406.6 L1028.2 404.1 L1031.0 401.5 L1033.7 397.1 L1036.5 369.7 L1039.2 364.3 L1042.0 361.0 L1044.8 362.2 L1047.6 352.5 L1050.3 325.8" fill="none" stroke="#0ea645" stroke-width="2.6" stroke-linejoin="round" stroke-linecap="round"/>
<!-- watermark -->
<g>
<circle cx="917.9" cy="591.7" r="14.6" fill="#fbeba2"/>
<path d="M909.2 584.6 Q914 583 919.2 583.2 Q922 583.6 923.8 585.1 L929 588.6 Q929.9 589.4 929.2 590.4 Q926 594 923 597.8 Q921.2 600.5 920.7 603.1 L919.9 606 Q917 606.2 915.3 605.6 Q912 604.6 910 602.8 Q907.5 601 906.1 599.3 L907.7 591.3 Q907.6 587 909.2 584.6 Z" fill="#a1e37b"/>
<circle cx="915.3" cy="587.8" r="2.5" fill="#fff"/><circle cx="916.7" cy="588" r="1.5" fill="#5a5a5a"/>
</g>
<text x="942.6" y="597.2" style="font-family:'Liberation Sans',sans-serif;font-weight:bold;font-size:18px;fill:#858585" textLength="95.6" lengthAdjust="spacingAndGlyphs">coingecko</text>
<!-- navigator -->
<rect x="175.9" y="815" width="1" height="53" fill="#e0e0e4"/><rect x="368.8" y="815" width="1" height="53" fill="#e0e0e4"/><rect x="560.3" y="815" width="1" height="53" fill="#e0e0e4"/><rect x="751.8" y="815" width="1" height="53" fill="#e0e0e4"/><rect x="943.6" y="815" width="1" height="53" fill="#e0e0e4"/>
<rect x="36" y="814" width="1016" height="1" fill="#ccd6eb"/>
<rect x="859" y="814.5" width="193" height="54" fill="#6685c2" fill-opacity="0.27"/>
<rect x="859" y="814" width="193" height="1" fill="#c3cde4"/>
<path d="M36.1 867.5 L103.5 866.5 L177.1 867.0 L191.8 866.8 L205.3 865.1 L221.2 864.6 L228.6 862.1 L233.5 862.1 L238.4 858.9 L248.2 858.9 L253.1 861.4 L256.8 861.4 L259.2 859.9 L264.1 859.9 L267.8 861.9 L275.2 860.9 L282.5 862.6 L290.0 860.9 L293.7 859.4 L297.4 853.5 L301.0 852.1 L304.7 841.8 L308.4 833.2 L310.1 832.5 L313.3 836.9 L318.2 841.3 L321.9 835.6 L326.8 838.6 L330.5 832.5 L332.9 828.3 L335.4 830.0 L339.0 819.2 L342.7 821.7 L345.2 825.1 L347.6 824.6 L349.6 828.3 L351.3 826.6 L354.2 826.6 L358.6 834.9 L364.8 830.7 L368.5 832.5 L372.9 840.1 L376.3 839.3 L378.7 844.2 L381.9 849.6 L385.1 849.1 L388.1 845.5 L393.0 848.6 L397.4 851.1 L399.8 848.6 L402.8 851.1 L407.2 851.6 L412.6 847.9 L417.0 841.8 L419.9 845.5 L423.6 847.9 L427.3 847.9 L431.0 849.1 L434.6 852.1 L438.3 857.7 L442.0 857.2 L446.9 858.9 L455.5 861.9 L461.6 860.2 L465.3 861.4 L473.9 859.7 L481.2 859.4 L486.1 858.4 L491.0 860.9 L498.4 861.9 L510.6 861.1 L522.9 862.1 L530.2 861.1 L533.9 864.6 L547.4 865.1 L559.7 865.8 L563.0 865.3 L568.4 863.1 L581.9 863.1 L596.6 864.1 L616.2 863.1 L640.7 863.8 L648.1 864.8 L657.9 863.8 L664.0 862.6 L677.5 862.9 L697.1 864.1 L711.8 862.9 L721.6 859.4 L727.7 856.0 L736.3 856.0 L741.2 853.5 L744.9 853.5 L749.1 845.7 L753.5 848.4 L758.4 849.1 L763.3 850.6 L769.4 847.9 L775.5 845.5 L781.7 847.2 L786.6 841.3 L790.3 836.9 L792.7 830.7 L795.2 832.5 L799.6 829.5 L803.7 832.5 L807.4 839.3 L811.8 838.1 L815.4 840.5 L818.6 838.0 L822.3 838.0 L826.7 832.4 L829.6 834.8 L835.7 835.5 L840.6 839.2 L844.3 841.7 L848.0 839.2 L852.2 840.5 L858.0 838.5 L864.4 836.8 L866.9 839.2 L870.1 838.0 L873.3 839.2 L877.4 837.3 L881.1 841.2 L884.8 842.2 L889.7 840.5 L894.6 837.3 L899.5 839.7 L904.4 838.0 L910.5 833.1 L914.2 834.3 L917.9 827.0 L923.3 818.4 L927.7 820.8 L932.6 822.6 L936.3 824.5 L939.9 829.9 L944.3 829.9 L947.3 825.7 L951.0 830.6 L954.6 819.6 L957.8 818.4 L960.8 822.6 L964.4 828.9 L968.1 829.4 L971.8 834.3 L974.7 839.2 L977.9 838.0 L980.9 842.2 L986.5 842.2 L989.5 840.5 L995.1 846.1 L1000.0 841.7 L1004.9 838.0 L1009.8 838.0 L1014.0 833.1 L1017.2 833.8 L1020.8 832.6 L1025.7 836.8 L1028.9 836.3 L1031.9 838.0 L1035.5 840.5 L1040.4 838.0 L1044.9 837.3 L1051.0 836.5" fill="none" stroke="#3f66b0" stroke-width="1.1" stroke-linejoin="round"/>
<rect x="853.8" y="830.7" width="10.4" height="20" rx="1.2" fill="#f5f5f7" stroke="#cdd2dc" stroke-width="1"/><rect x="857.1" y="836" width="1" height="9.5" fill="#b9bdc9"/><rect x="859.9" y="836" width="1" height="9.5" fill="#b9bdc9"/><rect x="1046.3" y="830.7" width="10.4" height="20" rx="1.2" fill="#f5f5f7" stroke="#cdd2dc" stroke-width="1"/><rect x="1049.6" y="836" width="1" height="9.5" fill="#b9bdc9"/><rect x="1052.4" y="836" width="1" height="9.5" fill="#b9bdc9"/>
</svg>
<div class="seg" style="left:23px;top:19px;width:369px;height:48px"></div>
<div class="btn" style="left:107px;top:24px;width:133px;height:38px"></div>
<div class="seg" style="left:398.2px;top:19.2px;width:60.4px;height:46.9px"></div>
<div class="btn" style="left:403px;top:24px;width:51px;height:38px"></div>
<svg class="ico" style="left:415px;top:30px" width="28" height="24" viewBox="415 30 28 24" fill="none" stroke="#0f172a" stroke-width="1.6" stroke-linecap="round" stroke-linejoin="round"><path d="M419.8 34.2 V47 Q419.8 49 421.8 49 H437.6"/><path d="M423.4 43.3 L427.1 39.5 L430.7 43.2 L436.6 37.7"/></svg>
<div class="seg" style="left:530px;top:19px;width:604px;height:48px"></div>
<div class="btn" style="left:774.2px;top:24px;width:45.6px;height:38px"></div>
<div id="caret" style="position:absolute;left:787.2px;top:31px;width:2.1px;height:22.7px;background:#0b0f1a"></div>
<svg class="ico" style="left:980px;top:28px" width="140" height="28" viewBox="980 28 140 28" fill="none" stroke="#334155" stroke-width="1.7" stroke-linecap="round" stroke-linejoin="round">
<rect x="984.9" y="35.9" width="14.9" height="14.3" rx="2" fill="#fbfcfe"/><path d="M984.9 36 H999.8 V39.4 H984.9 Z" fill="#334155"/><path d="M988.7 32.6 V36 M995.9 32.6 V36"/><rect x="987.8" y="42.1" width="9" height="2.9" fill="#334155" stroke="none"/>
<path d="M1047.5 32.5 V44.2 M1042.4 39.2 L1047.5 44.3 L1052.6 39.2 M1040.2 45 V48 Q1040.2 50.2 1042.4 50.2 H1052.8 Q1055 50.2 1055 48 V45"/>
<path d="M1105.1 39.9 L1112.3 32.7 M1106.2 32.8 H1112.4 V38.8 M1101.6 43.4 L1094.6 50.4 M1094.5 44.2 V50.5 H1100.7"/>
</svg>
<span class="t" id="t1" style="left:41.50px;top:32.32px;font-size:19px;font-weight:normal;color:#404e64;letter-spacing:0.938px;transform:scaleX(1.0000);transform-origin:0 50%;-webkit-text-stroke:0.8px #475569;">Price</span>
<span class="t" id="t2" style="left:121.10px;top:32.32px;font-size:19px;font-weight:normal;color:#0f172a;letter-spacing:0.778px;transform:scaleX(1.0000);transform-origin:0 50%;-webkit-text-stroke:0.8px #0f172a;">Market Cap</span>
<span class="t" id="t3" style="left:259.10px;top:32.32px;font-size:19px;font-weight:normal;color:#404e64;letter-spacing:0.850px;transform:scaleX(1.0000);transform-origin:0 50%;-webkit-text-stroke:0.8px #475569;">TradingView</span>
<span class="t" id="r1" style="left:548.90px;top:32.32px;font-size:19px;font-weight:normal;color:#404e64;letter-spacing:1.750px;transform:scaleX(1.0000);transform-origin:0 50%;-webkit-text-stroke:0.8px #475569;">24h</span>
<span class="t" id="r2" style="left:615.90px;top:32.32px;font-size:19px;font-weight:normal;color:#404e64;letter-spacing:0.000px;transform:scaleX(0.9969);transform-origin:0 50%;-webkit-text-stroke:0.8px #475569;">7d</span>
<span class="t" id="r3" style="left:668.30px;top:32.32px;font-size:19px;font-weight:normal;color:#404e64;letter-spacing:0.000px;transform:scaleX(0.9575);transform-origin:0 50%;-webkit-text-stroke:0.8px #475569;">1m</span>
<span class="t" id="r4" style="left:726.90px;top:32.32px;font-size:19px;font-weight:normal;color:#404e64;letter-spacing:0.000px;transform:scaleX(1.0722);transform-origin:0 50%;-webkit-text-stroke:0.8px #475569;">3m</span>
<span class="t" id="r5" style="left:787.15px;top:32.32px;font-size:19px;font-weight:normal;color:#0f172a;letter-spacing:0.000px;transform:scaleX(0.8761);transform-origin:0 50%;-webkit-text-stroke:0.8px #0f172a;">1y</span>
<span class="t" id="r6" style="left:838.40px;top:32.32px;font-size:19px;font-weight:normal;color:#404e64;letter-spacing:1.125px;transform:scaleX(1.0000);transform-origin:0 50%;-webkit-text-stroke:0.8px #475569;">Max</span>
<span class="t" id="r7" style="left:909.20px;top:32.32px;font-size:19px;font-weight:normal;color:#404e64;letter-spacing:0.000px;transform:scaleX(0.9878);transform-origin:0 50%;-webkit-text-stroke:0.8px #475569;">LOG</span>
<span class="t" id="b1" style="left:23.45px;top:902.66px;font-size:19.3px;font-weight:normal;color:#334155;letter-spacing:0.646px;transform:scaleX(1.0000);transform-origin:0 50%;-webkit-text-stroke:0.3px #334155;">Compare with:</span>
<span class="t" id="b2" style="left:197.85px;top:902.66px;font-size:19.3px;font-weight:normal;color:#0f172a;letter-spacing:0.000px;transform:scaleX(0.9466);transform-origin:0 50%;-webkit-text-stroke:0.3px #0f172a;">BTC</span>
<span class="t" id="b3" style="left:288.95px;top:902.66px;font-size:19.3px;font-weight:normal;color:#0f172a;letter-spacing:0.000px;transform:scaleX(0.9876);transform-origin:0 50%;-webkit-text-stroke:0.3px #0f172a;">ETH</span>
<span class="t" id="b4" style="left:877.05px;top:903.65px;font-size:16.6px;font-weight:normal;color:#64748b;letter-spacing:0.250px;transform:scaleX(1.0000);transform-origin:0 50%;">Need more data?</span>
<span class="t" id="b5" style="left:1014.10px;top:903.65px;font-size:16.6px;font-weight:normal;color:#334155;letter-spacing:0.268px;transform:scaleX(1.0000);transform-origin:0 50%;-webkit-text-stroke:0.75px #334155;text-decoration:underline;text-underline-offset:2px;text-decoration-thickness:1.3px;">Explore our API</span>
<span class="t" id="a0" style="left:1072.55px;top:131.45px;font-size:16.6px;font-weight:normal;color:#64748b;letter-spacing:-0.225px;transform:scaleX(1.0000);transform-origin:0 50%;">$140B</span>
<span class="t" id="a1" style="left:1072.55px;top:228.15px;font-size:16.6px;font-weight:normal;color:#64748b;letter-spacing:-0.212px;transform:scaleX(1.0000);transform-origin:0 50%;">$120B</span>
<span class="t" id="a2" style="left:1072.55px;top:324.45px;font-size:16.6px;font-weight:normal;color:#64748b;letter-spacing:-0.212px;transform:scaleX(1.0000);transform-origin:0 50%;">$100B</span>
<span class="t" id="a3" style="left:1072.60px;top:420.85px;font-size:16.6px;font-weight:normal;color:#64748b;letter-spacing:0.517px;transform:scaleX(1.0000);transform-origin:0 50%;">$80B</span>
<span class="t" id="a4" style="left:1072.60px;top:517.25px;font-size:16.6px;font-weight:normal;color:#64748b;letter-spacing:0.517px;transform:scaleX(1.0000);transform-origin:0 50%;">$60B</span>
<span class="t" id="a5" style="left:1072.60px;top:613.65px;font-size:16.6px;font-weight:normal;color:#64748b;letter-spacing:0.517px;transform:scaleX(1.0000);transform-origin:0 50%;">$40B</span>
<span class="t" id="a6" style="left:87.20px;top:762.55px;font-size:16.6px;font-weight:normal;color:#64748b;letter-spacing:-0.142px;transform:scaleX(1.0000);transform-origin:0 50%;">19. Aug</span>
<span class="t" id="a7" style="left:202.65px;top:762.55px;font-size:16.6px;font-weight:normal;color:#64748b;letter-spacing:0.000px;transform:scaleX(1.0000);transform-origin:0 50%;">30. Sep</span>
<span class="t" id="a8" style="left:321.45px;top:762.55px;font-size:16.6px;font-weight:normal;color:#64748b;letter-spacing:0.000px;transform:scaleX(0.9185);transform-origin:0 50%;">11. Nov</span>
<span class="t" id="a9" style="left:435.25px;top:762.55px;font-size:16.6px;font-weight:normal;color:#64748b;letter-spacing:0.058px;transform:scaleX(1.0000);transform-origin:0 50%;">23. Dec</span>
<span class="t" id="a10" style="left:557.55px;top:762.55px;font-size:16.6px;font-weight:normal;color:#64748b;letter-spacing:-0.090px;transform:scaleX(1.0000);transform-origin:0 50%;">3. Feb</span>
<span class="t" id="a11" style="left:670.15px;top:762.55px;font-size:16.6px;font-weight:normal;color:#64748b;letter-spacing:0.000px;transform:scaleX(0.9419);transform-origin:0 50%;">17. Mar</span>
<span class="t" id="a12" style="left:786.70px;top:762.55px;font-size:16.6px;font-weight:normal;color:#64748b;letter-spacing:0.233px;transform:scaleX(1.0000);transform-origin:0 50%;">28. Apr</span>
<span class="t" id="a13" style="left:907.30px;top:762.55px;font-size:16.6px;font-weight:normal;color:#64748b;letter-spacing:0.240px;transform:scaleX(1.0000);transform-origin:0 50%;">9. Jun</span>
<span class="t" id="a14" style="left:1023.30px;top:762.55px;font-size:16.6px;font-weight:normal;color:#64748b;letter-spacing:-0.225px;transform:scaleX(1.0000);transform-origin:0 50%;">21. Jul</span>
<span class="t" id="n0" style="left:182.05px;top:848.66px;font-size:16px;font-weight:normal;color:#999999;letter-spacing:-0.150px;transform:scaleX(1.0000);transform-origin:0 50%;">2021</span>
<span class="t" id="n1" style="left:374.15px;top:848.66px;font-size:16px;font-weight:normal;color:#999999;letter-spacing:-0.150px;transform:scaleX(1.0000);transform-origin:0 50%;">2022</span>
<span class="t" id="n2" style="left:565.45px;top:848.66px;font-size:16px;font-weight:normal;color:#999999;letter-spacing:-0.150px;transform:scaleX(1.0000);transform-origin:0 50%;">2023</span>
<span class="t" id="n3" style="left:757.45px;top:848.66px;font-size:16px;font-weight:normal;color:#999999;letter-spacing:-0.150px;transform:scaleX(1.0000);transform-origin:0 50%;">2024</span>
<span class="t" id="n4" style="left:950.55px;top:848.66px;font-size:16px;font-weight:normal;color:#999999;letter-spacing:-0.150px;transform:scaleX(1.0000);transform-origin:0 50%;">2025</span>
<div class="float"></div>
<svg class="ico" style="left:5px;top:384px" width="28" height="28" viewBox="5 384 28 28" fill="none" stroke="#8b8fa3" stroke-width="1.5" stroke-linejoin="round" stroke-linecap="round">
<path d="M13.3 392.6 H10.3 Q8.6 392.6 8.6 394.3 V407.3 Q8.6 409 10.3 409 H19.3 Q21 409 21 407.3 V404.6"/>
<path d="M15.3 387.6 H20.3 Q26.8 388.2 27.1 394.8 V402.8 Q27.1 404.5 25.4 404.5 H15.3 Q13.6 404.5 13.6 402.8 V389.3 Q13.6 387.6 15.3 387.6 Z"/>
<path d="M20.3 387.8 V392.6 Q20.3 394.6 22.3 394.6 H26.9"/>
</svg>
<div class="cb" style="left:166.2px;top:901px"></div>
<div class="cb" style="left:257.3px;top:901px"></div>
</body></html>
